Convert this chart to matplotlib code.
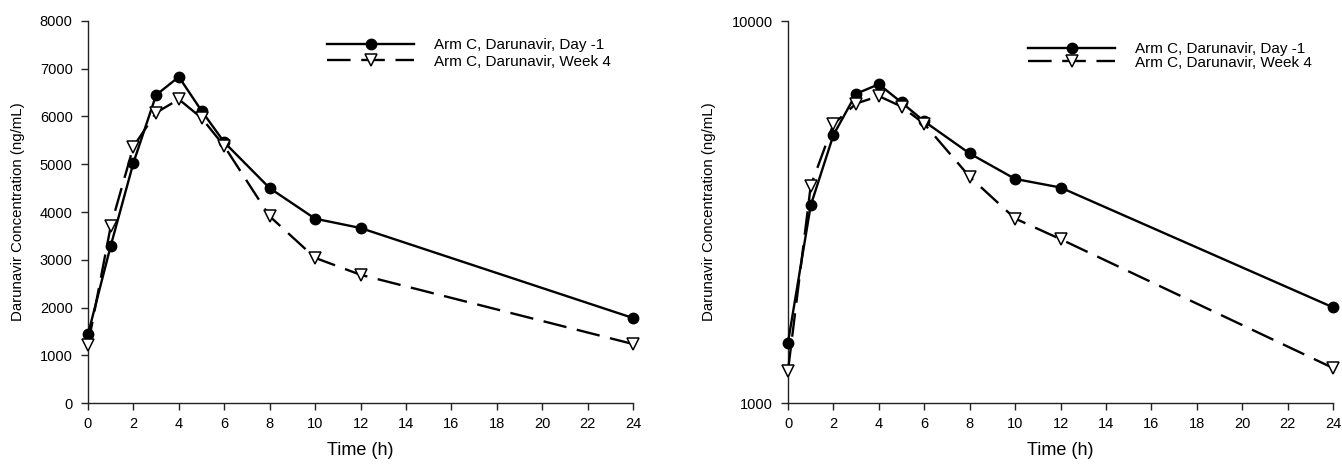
import matplotlib
matplotlib.use("Agg")
import matplotlib.pyplot as plt
from matplotlib.ticker import FixedLocator, NullLocator

plt.rcParams['font.family'] = ['Liberation Sans', 'DejaVu Sans']

times = [0, 1, 2, 3, 4, 5, 6, 8, 10, 12, 24]
day1 = [1440, 3290, 5030, 6450, 6830, 6120, 5460, 4500, 3860, 3665, 1780]
week4 = [1215, 3700, 5370, 6080, 6360, 5970, 5380, 3910, 3040, 2685, 1235]
label_day1 = "Arm C, Darunavir, Day -1"
label_week4 = "Arm C, Darunavir, Week 4"
xticks = list(range(0, 25, 2))
yticks_lin = list(range(0, 8001, 1000))
yticks_log = [1000, 10000]
xlabel = "Time (h)"
ylabel = "Darunavir Concentration (ng/mL)"

W, H = 1342, 465
fig = plt.figure(figsize=(W / 100, H / 100), dpi=100)

def px_axes(x0, x1, y0, y1):
    return fig.add_axes([x0 / W, 1 - y1 / H, (x1 - x0) / W, (y1 - y0) / H])

ax1 = px_axes(88, 633, 21, 403)
ax2 = px_axes(788, 1333, 21, 403)

def style(ax, leg_x, leg_y, spacing):
    ax.plot(times, day1, color='black', lw=1.7, marker='o', ms=7.5,
            mfc='black', mec='black', label=label_day1, clip_on=False, zorder=3)
    ax.plot(times, week4, color='black', lw=1.7, ls=(0, (10, 4.5)), marker='v', ms=8.5,
            mfc='white', mec='black', mew=1.1, label=label_week4, clip_on=False, zorder=4)
    for s in ['top', 'right']:
        ax.spines[s].set_visible(False)
    for s in ['left', 'bottom']:
        ax.spines[s].set_linewidth(1.0)
        ax.spines[s].set_color('#222222')
    ax.set_xlim(0, 24)
    ax.xaxis.set_major_locator(FixedLocator(xticks))
    ax.xaxis.set_minor_locator(NullLocator())
    ax.tick_params(axis='both', which='major', direction='out', length=5, width=1.0,
                   labelsize=10.5, color='#222222')
    ax.tick_params(axis='x', pad=5)
    ax.tick_params(axis='y', pad=6)
    ax.set_xlabel(xlabel, fontsize=13, labelpad=8)
    ax.set_ylabel(ylabel, fontsize=10.8, labelpad=11)
    leg = ax.legend(loc='upper left', bbox_to_anchor=(leg_x, leg_y), frameon=False,
                    fontsize=11, handlelength=5.7, handletextpad=1.3,
                    labelspacing=spacing, borderpad=0, borderaxespad=0)
    return leg

ax1.set_ylim(0, 8000)
ax1.yaxis.set_major_locator(FixedLocator(yticks_lin))
style(ax1, (327 - 88) / 545, (403 - 38) / 382, 0.18)

ax2.set_yscale('log')
ax2.set_ylim(1000, 10000)
ax2.yaxis.set_major_locator(FixedLocator(yticks_log))
ax2.yaxis.set_minor_locator(NullLocator())
ax2.yaxis.set_major_formatter(matplotlib.ticker.FuncFormatter(lambda v, p: f"{int(v)}"))
style(ax2, (1028 - 788) / 545, (403 - 42) / 382, -0.02)

fig.savefig("out.png", dpi=100, facecolor='white')
